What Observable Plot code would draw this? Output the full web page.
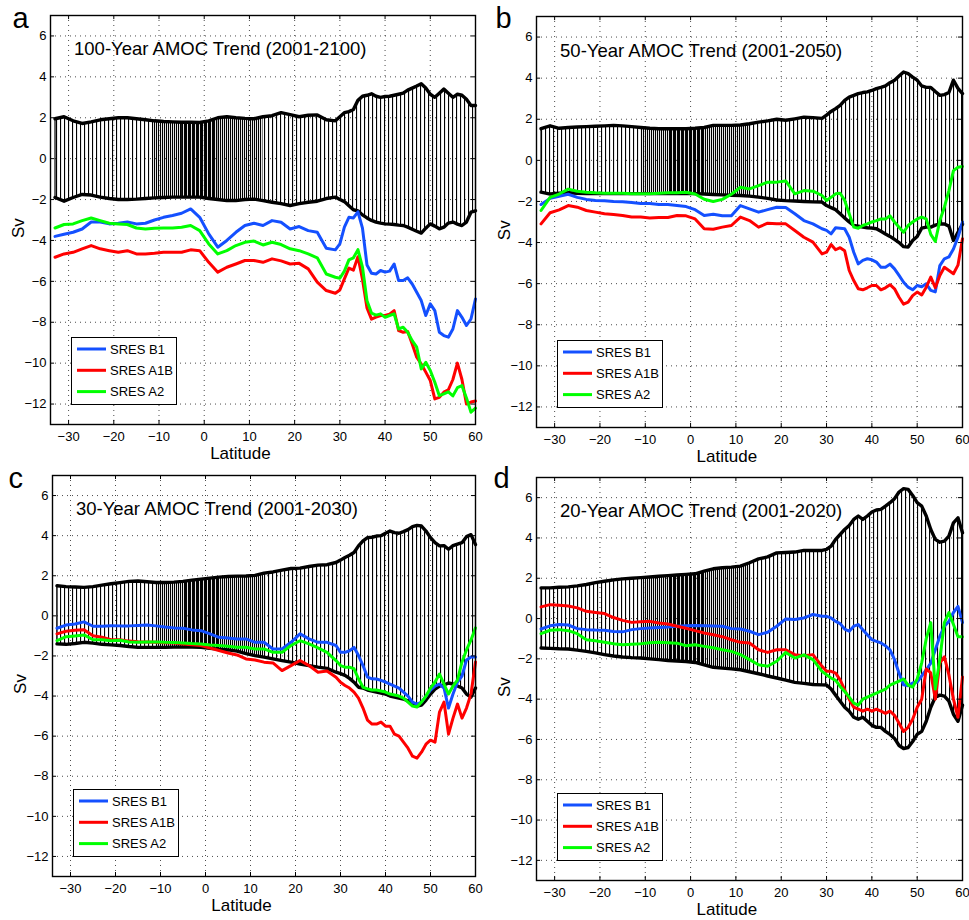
<!DOCTYPE html>
<html><head><meta charset="utf-8">
<script src="https://cdn.jsdelivr.net/npm/d3@7"></script>
<script src="https://cdn.jsdelivr.net/npm/@observablehq/plot@0.6"></script>
<style>
body{margin:0;background:#fff;}
#wrap{position:relative;width:969px;height:920px;background:#fff;overflow:hidden;}
.panel{position:absolute;}
</style></head><body><div id="wrap"></div>
<script>
// ---------------- data ----------------
const LAT = [-33,-31,-29,-27,-25,-23,-21,-19,-17,-15,-13,-11,-9,-7,-5,-3,-1,
 1,3,5,7,9,11,13,15,17,19,21,23,25,27,29,
 30,31,32,33,34,35,36,37,38,39,40,41,42,43,44,
 45,46,47,48,49,50,51,52,53,54,55,56,57,58,59,60];
const SERIES = ["SRES B1", "SRES A1B", "SRES A2"];
const SERIES_COLORS = ["#1450ff", "#ff0000", "#00ff00"];
const X_TICKS = [-30,-20,-10,0,10,20,30,40,50,60];
const Y_TICKS = [-12,-10,-8,-6,-4,-2,0,2,4,6];
const PANEL_LETTERS = ["a", "b", "c", "d"];
const PANEL_TITLES = ["100-Year AMOC Trend (2001-2100)", "50-Year AMOC Trend (2001-2050)",
  "30-Year AMOC Trend (2001-2030)", "20-Year AMOC Trend (2001-2020)"];
const X_LABEL = "Latitude";
const Y_LABEL = "Sv";

// panel a: 100-year
const aUp = [1.95,2.05,1.85,1.72,1.8,1.9,1.95,2.0,2.0,1.95,1.9,1.85,1.82,1.8,1.78,1.78,1.77,
 1.85,2.0,2.05,2.0,1.97,1.95,2.05,2.1,2.25,2.15,2.05,2.12,2.14,1.9,1.85,
 2.05,2.25,2.3,2.4,2.85,3.05,3.1,3.17,3.05,3.0,3.04,3.05,3.1,3.15,3.2,
 3.35,3.45,3.55,3.66,3.45,3.15,3.0,3.2,3.4,3.2,3.0,3.15,3.1,2.9,2.6,2.6];
const aLo = [-1.9,-2.08,-1.9,-1.75,-1.78,-1.88,-1.95,-2.0,-2.0,-1.98,-1.95,-1.92,-1.9,-1.88,-1.88,-1.88,-1.88,
 -1.95,-2.0,-2.05,-2.05,-2.0,-1.98,-2.05,-2.13,-2.2,-2.29,-2.2,-2.13,-2.08,-1.95,-1.88,
 -2.0,-2.1,-2.3,-2.5,-2.55,-2.75,-2.9,-3.02,-3.1,-3.15,-3.19,-3.2,-3.22,-3.25,-3.27,
 -3.35,-3.45,-3.55,-3.64,-3.4,-3.19,-3.3,-3.43,-3.35,-3.15,-3.1,-3.2,-3.27,-3.1,-2.62,-2.55];
const aB1 = [-3.8,-3.7,-3.6,-3.44,-3.1,-3.1,-3.19,-3.16,-3.1,-3.19,-3.16,-3.0,-2.87,-2.78,-2.67,-2.46,-2.87,
 -3.68,-4.33,-4.0,-3.6,-3.27,-3.16,-3.27,-3.03,-3.11,-3.44,-3.32,-3.52,-3.6,-4.38,-4.46,
 -4.17,-3.35,-2.87,-2.9,-2.6,-3.4,-5.2,-5.6,-5.64,-5.47,-5.55,-5.5,-5.15,-5.96,-5.96,
 -5.83,-6.13,-6.53,-6.94,-7.67,-7.1,-7.43,-8.49,-8.65,-8.73,-8.33,-7.43,-7.76,-8.16,-7.84,-6.86];
const aA1B = [-4.82,-4.66,-4.58,-4.41,-4.25,-4.41,-4.5,-4.58,-4.5,-4.66,-4.66,-4.63,-4.58,-4.58,-4.58,-4.46,-4.5,
 -5.07,-5.55,-5.31,-5.15,-4.98,-4.98,-5.07,-4.9,-5.0,-5.15,-5.12,-5.39,-6.04,-6.45,-6.58,
 -6.42,-5.88,-5.35,-5.45,-4.8,-5.9,-7.3,-7.85,-7.75,-7.67,-7.67,-7.6,-7.43,-8.41,-8.49,
 -8.45,-9.06,-9.71,-10.04,-10.44,-10.85,-11.75,-11.67,-11.42,-11.3,-10.8,-10.0,-10.8,-12.0,-11.9,-11.85];
const aA2 = [-3.39,-3.22,-3.19,-3.03,-2.9,-3.03,-3.16,-3.19,-3.22,-3.39,-3.44,-3.4,-3.39,-3.39,-3.35,-3.27,-3.52,
 -4.17,-4.66,-4.5,-4.25,-4.09,-4.03,-4.22,-4.09,-4.2,-4.41,-4.5,-4.66,-4.85,-5.64,-5.8,
 -5.85,-5.5,-4.95,-4.85,-4.45,-5.3,-6.95,-7.55,-7.65,-7.59,-7.76,-7.67,-7.59,-8.33,-8.24,
 -8.49,-8.9,-9.22,-10.28,-9.96,-10.36,-10.93,-11.59,-11.5,-11.4,-11.6,-11.2,-11.1,-11.7,-12.4,-12.2];

// panel b: 50-year
const bUp = [1.54,1.68,1.56,1.6,1.62,1.64,1.66,1.68,1.7,1.68,1.64,1.6,1.56,1.54,1.54,1.54,1.54,
 1.56,1.6,1.7,1.7,1.7,1.72,1.78,1.86,1.92,2.0,1.95,2.02,2.1,2.08,2.04,
 2.2,2.38,2.52,2.68,2.92,3.08,3.16,3.25,3.3,3.33,3.4,3.49,3.55,3.62,3.78,
 3.9,4.1,4.3,4.22,4.05,3.9,3.62,3.55,3.55,3.35,3.16,3.2,3.3,3.9,3.5,3.25];
const bLo = [-1.55,-1.64,-1.6,-1.58,-1.6,-1.62,-1.62,-1.62,-1.62,-1.62,-1.62,-1.62,-1.62,-1.62,-1.62,-1.62,-1.62,
 -1.62,-1.64,-1.66,-1.68,-1.7,-1.71,-1.74,-1.79,-1.85,-1.93,-1.96,-1.98,-2.0,-2.02,-2.03,
 -2.2,-2.3,-2.4,-2.6,-2.8,-3.0,-3.17,-3.2,-3.25,-3.28,-3.3,-3.33,-3.45,-3.58,-3.7,
 -3.85,-4.0,-4.2,-4.22,-3.9,-3.7,-3.3,-3.25,-3.25,-3.15,-3.09,-3.1,-3.2,-3.9,-3.5,-3.1];
const bB1 = [-2.15,-1.85,-1.75,-1.65,-1.8,-1.9,-1.95,-1.97,-2.0,-2.02,-2.05,-2.1,-2.1,-2.15,-2.15,-2.2,-2.25,
 -2.4,-2.68,-2.62,-2.7,-2.7,-2.2,-2.36,-2.52,-2.4,-2.28,-2.3,-2.6,-2.93,-3.09,-3.33,
 -3.41,-3.58,-3.28,-3.3,-3.33,-3.74,-4.47,-5.04,-4.87,-4.79,-4.84,-4.95,-5.2,-5.2,-5.05,
 -5.28,-5.6,-5.93,-6.17,-6.3,-6.09,-6.15,-6.01,-6.33,-6.4,-5.12,-4.79,-4.7,-4.31,-3.74,-3.0];
const bA1B = [-3.09,-2.55,-2.41,-2.2,-2.28,-2.44,-2.52,-2.6,-2.64,-2.68,-2.76,-2.76,-2.8,-2.78,-2.78,-2.68,-2.7,
 -2.85,-3.33,-3.35,-3.25,-3.17,-2.76,-2.93,-3.25,-3.06,-3.09,-3.09,-3.41,-3.74,-3.98,-4.55,
 -4.47,-4.1,-4.35,-4.25,-4.4,-5.36,-5.85,-6.25,-6.3,-6.2,-6.09,-6.09,-6.3,-6.2,-6.05,
 -6.25,-6.66,-7.0,-6.9,-6.58,-6.41,-6.55,-6.17,-5.68,-6.2,-5.6,-5.2,-5.36,-5.52,-5.1,-3.82];
const bA2 = [-2.44,-1.8,-1.64,-1.4,-1.5,-1.55,-1.58,-1.6,-1.6,-1.6,-1.62,-1.62,-1.62,-1.6,-1.58,-1.58,-1.55,
 -1.64,-1.89,-2.0,-1.9,-1.65,-1.31,-1.39,-1.23,-1.06,-1.06,-1.0,-1.63,-1.47,-1.5,-1.71,
 -1.95,-1.8,-1.63,-1.6,-1.95,-2.6,-3.25,-3.3,-3.17,-3.09,-3.0,-2.93,-2.85,-2.85,-2.7,
 -3.0,-3.25,-3.5,-3.17,-3.0,-2.85,-2.76,-2.85,-3.6,-3.95,-2.93,-2.28,-1.47,-0.5,-0.34,-0.3];

// panel c: 30-year
const cUp = [1.5,1.46,1.44,1.42,1.46,1.53,1.6,1.66,1.72,1.74,1.7,1.66,1.66,1.68,1.72,1.78,1.83,
 1.88,1.93,1.96,1.98,1.99,2.02,2.13,2.19,2.28,2.36,2.38,2.46,2.53,2.55,2.66,
 2.78,2.91,3.02,3.16,3.49,3.74,3.9,3.92,3.98,4.0,4.12,4.23,4.15,4.12,4.2,
 4.3,4.45,4.51,4.48,4.23,3.9,3.65,3.49,3.5,3.32,3.5,3.58,3.65,3.95,4.05,3.55];
const cLo = [-1.4,-1.42,-1.38,-1.32,-1.36,-1.42,-1.45,-1.48,-1.53,-1.57,-1.57,-1.57,-1.57,-1.56,-1.55,-1.56,-1.57,
 -1.62,-1.66,-1.7,-1.76,-1.88,-1.98,-2.06,-2.15,-2.23,-2.31,-2.4,-2.48,-2.56,-2.62,-2.81,
 -2.88,-2.97,-3.12,-3.31,-3.56,-3.6,-3.7,-3.75,-3.8,-3.85,-3.9,-4.0,-4.05,-4.1,-4.15,
 -4.25,-4.4,-4.5,-4.45,-4.2,-3.9,-3.65,-3.5,-3.45,-3.35,-3.4,-3.5,-3.6,-3.9,-4.05,-3.6];
const cB1 = [-0.62,-0.46,-0.41,-0.3,-0.52,-0.52,-0.49,-0.5,-0.5,-0.48,-0.46,-0.5,-0.56,-0.6,-0.62,-0.7,-0.74,
 -0.9,-1.07,-1.1,-1.15,-1.15,-1.32,-1.32,-1.65,-1.65,-1.32,-0.9,-1.15,-1.32,-1.32,-1.48,
 -1.82,-1.82,-1.74,-1.57,-1.98,-2.48,-3.06,-3.14,-3.15,-3.22,-3.3,-3.4,-3.5,-3.6,-3.8,
 -4.0,-4.3,-4.4,-4.3,-4.0,-3.7,-3.5,-3.4,-3.6,-4.6,-3.9,-3.3,-3.0,-2.2,-2.05,-2.05];
const cA1B = [-0.9,-0.77,-0.72,-0.69,-0.99,-1.07,-1.19,-1.19,-1.26,-1.29,-1.3,-1.32,-1.34,-1.36,-1.4,-1.44,-1.48,
 -1.6,-1.73,-1.85,-1.95,-2.15,-2.2,-2.31,-2.35,-2.73,-2.48,-2.23,-2.48,-2.81,-2.75,-3.06,
 -3.31,-3.47,-3.6,-3.8,-4.1,-4.6,-5.2,-5.4,-5.4,-5.3,-5.5,-5.5,-5.9,-6.0,-6.3,
 -6.6,-7.0,-7.1,-6.8,-6.4,-6.2,-6.3,-4.8,-4.3,-5.9,-5.1,-4.4,-5.1,-4.6,-3.9,-2.3];
const cA2 = [-1.24,-1.04,-1.0,-0.95,-1.19,-1.19,-1.24,-1.22,-1.3,-1.32,-1.3,-1.3,-1.32,-1.33,-1.35,-1.38,-1.4,
 -1.45,-1.48,-1.52,-1.57,-1.57,-1.65,-1.65,-1.82,-1.82,-1.48,-1.24,-1.4,-1.6,-1.82,-2.23,
 -2.48,-2.56,-2.56,-2.64,-3.14,-3.56,-3.64,-3.7,-3.7,-3.75,-3.8,-3.9,-3.95,-4.0,-4.1,
 -4.3,-4.5,-4.55,-4.3,-4.0,-3.6,-3.3,-2.9,-3.4,-3.9,-3.5,-3.2,-2.3,-1.7,-1.2,-0.6];

// panel d: 20-year
const dUp = [1.52,1.52,1.55,1.57,1.62,1.69,1.78,1.85,1.92,1.97,2.0,2.03,2.06,2.1,2.13,2.16,2.19,
 2.22,2.35,2.47,2.52,2.55,2.6,2.77,2.96,3.06,3.26,3.28,3.3,3.38,3.38,3.38,
 3.43,3.59,3.93,4.17,4.42,4.62,4.92,5.09,4.92,5.09,5.29,5.39,5.42,5.58,5.75,
 5.95,6.28,6.45,6.41,6.11,5.75,5.58,5.09,4.42,3.93,3.79,3.84,4.09,4.75,5.0,4.26];
const dLo = [-1.46,-1.48,-1.5,-1.51,-1.57,-1.63,-1.7,-1.79,-1.86,-1.91,-1.94,-1.96,-2.0,-2.04,-2.08,-2.11,-2.13,
 -2.18,-2.3,-2.42,-2.46,-2.5,-2.54,-2.64,-2.74,-2.85,-2.95,-3.06,-3.17,-3.22,-3.27,-3.29,
 -3.3,-3.5,-3.8,-4.1,-4.4,-4.6,-4.9,-5.0,-4.9,-5.1,-5.3,-5.4,-5.4,-5.6,-5.75,
 -5.95,-6.3,-6.45,-6.4,-6.1,-5.75,-5.6,-5.1,-4.4,-3.9,-3.8,-3.85,-4.1,-4.75,-5.1,-4.3];
const dB1 = [-0.52,-0.36,-0.3,-0.32,-0.5,-0.55,-0.57,-0.58,-0.64,-0.66,-0.55,-0.5,-0.47,-0.44,-0.42,-0.38,-0.36,
 -0.35,-0.36,-0.37,-0.38,-0.5,-0.52,-0.63,-0.8,-0.68,-0.38,-0.02,-0.05,0.03,0.2,0.11,
 0.11,0.03,-0.14,-0.25,-0.52,-0.63,-0.38,-0.3,-0.55,-0.8,-1.05,-1.13,-1.21,-1.35,-1.55,
 -2.04,-2.71,-3.29,-3.33,-3.2,-3.15,-2.84,-2.54,-2.21,-1.55,-0.88,-0.38,-0.14,0.3,0.6,-0.2];
const dA1B = [0.58,0.69,0.66,0.62,0.53,0.36,0.3,0.25,0.05,-0.09,-0.19,-0.16,-0.14,-0.22,-0.27,-0.38,-0.48,
 -0.6,-0.72,-0.8,-0.9,-1.05,-1.18,-1.21,-1.55,-1.68,-1.55,-1.55,-1.79,-1.85,-1.79,-2.37,
 -2.62,-2.62,-2.71,-3.04,-3.54,-4.0,-4.4,-4.5,-4.6,-4.5,-4.6,-4.5,-4.6,-4.7,-4.6,
 -4.8,-5.2,-5.6,-5.4,-5.0,-4.4,-4.0,-2.5,-2.7,-4.0,-2.2,-1.9,-2.8,-4.0,-4.9,-2.9];
const dA2 = [-0.75,-0.58,-0.55,-0.6,-0.75,-1.05,-1.1,-1.18,-1.25,-1.3,-1.27,-1.25,-1.2,-1.18,-1.2,-1.22,-1.35,
 -1.3,-1.38,-1.45,-1.55,-1.63,-1.79,-2.04,-2.29,-2.37,-2.12,-1.68,-1.96,-1.8,-2.04,-2.62,
 -2.79,-2.95,-3.07,-3.37,-3.62,-3.9,-4.2,-4.3,-4.0,-3.9,-3.8,-3.7,-3.6,-3.5,-3.3,
 -3.2,-3.1,-3.0,-3.3,-3.4,-3.0,-2.2,-1.0,-0.2,-3.5,-2.0,-0.2,0.3,-0.3,-0.9,-0.9];

// ---------------- layout ----------------
const LAYOUT = [
  {left: 0,   top: 0,   width: 485, height: 460, mt: 15, mb: 36, ml: 50, mr: 10, ldx: -38, ldy: 12},
  {left: 485, top: 0,   width: 484, height: 460, mt: 16, mb: 33, ml: 51, mr: 7,  ldx: -41, ldy: 11},
  {left: 0,   top: 455, width: 485, height: 460, mt: 20, mb: 39, ml: 52, mr: 10, ldx: -44, ldy: 12},
  {left: 485, top: 455, width: 484, height: 460, mt: 22, mb: 35, ml: 51, mr: 7,  ldx: -43, ldy: 10}
];
const PANELS = [
  {up: aUp, lo: aLo, lines: [aB1, aA1B, aA2]},
  {up: bUp, lo: bLo, lines: [bB1, bA1B, bA2]},
  {up: cUp, lo: cLo, lines: [cB1, cA1B, cA2]},
  {up: dUp, lo: dLo, lines: [dB1, dA1B, dA2]}
];
const FONT = "'Liberation Sans', Arial, Helvetica, sans-serif";
const wrap = document.getElementById("wrap");

PANELS.forEach((P, i) => {
  const L = LAYOUT[i];
  const band = LAT.map((lat, k) => ({lat, hi: P.up[k], lo: P.lo[k]}));
  const series = SERIES.map((name, j) => LAT.map((lat, k) => ({lat, v: P.lines[j][k], name})));
  const gridStyle = {stroke: "#222", strokeOpacity: 0.9, strokeWidth: 0.9, strokeDasharray: "1,4"};
  const svg = Plot.plot({
    width: L.width, height: L.height,
    marginTop: L.mt, marginBottom: L.mb, marginLeft: L.ml, marginRight: L.mr,
    style: {fontFamily: FONT, fontSize: "13px", background: "transparent", color: "black", overflow: "visible"},
    x: {domain: [-34, 60], ticks: X_TICKS, tickSize: 0, tickPadding: 7, label: null},
    y: {domain: [-13, 7], ticks: Y_TICKS, tickSize: 0, tickPadding: 4, label: null},
    marks: [
      Plot.gridX(X_TICKS, gridStyle),
      Plot.gridY(Y_TICKS, gridStyle),
      Plot.areaY(band, {x: "lat", y1: "lo", y2: "hi", fill: `url(#hb${i})`}),
      Plot.areaY(band.filter(d => d.lat >= -11 && d.lat <= 13), {x: "lat", y1: "lo", y2: "hi", fill: `url(#hm${i})`}),
      Plot.areaY(band.filter(d => d.lat >= -5 && d.lat <= 3), {x: "lat", y1: "lo", y2: "hi", fill: `url(#hd${i})`}),
      Plot.ruleX([band[0], band[band.length - 1]], {x: "lat", y1: "lo", y2: "hi", stroke: "black", strokeWidth: 1.2}),
      Plot.lineY(band, {x: "lat", y: "hi", stroke: "black", strokeWidth: 3.4}),
      Plot.lineY(band, {x: "lat", y: "lo", stroke: "black", strokeWidth: 3.4}),
      ...series.map((rows, j) => Plot.lineY(rows, {x: "lat", y: "v", stroke: SERIES_COLORS[j], strokeWidth: 3})),
      Plot.ruleX(X_TICKS, {x: d => d, y1: -13, y2: -12.8, stroke: "black"}),
      Plot.ruleX(X_TICKS, {x: d => d, y1: 7, y2: 6.8, stroke: "black"}),
      Plot.ruleY(Y_TICKS, {y: d => d, x1: -34, x2: -33.1, stroke: "black"}),
      Plot.ruleY(Y_TICKS, {y: d => d, x1: 60, x2: 59.1, stroke: "black"}),
      Plot.frame({stroke: "black", strokeWidth: 1.4}),
      Plot.text([PANEL_TITLES[i]], {x: () => -28.8, y: () => 5.05, text: d => d, textAnchor: "start", lineAnchor: "bottom", fontSize: 18.5, fill: "black"}),
      Plot.text([PANEL_LETTERS[i]], {frameAnchor: "top-left", dx: L.ldx, dy: L.ldy, text: d => d, textAnchor: "start", lineAnchor: "bottom", fontSize: 29, fill: "black"}),
      Plot.text([Y_LABEL], {x: () => -34, y: () => -3.4, dx: -32, rotate: -90, text: d => d, fontSize: 17, fill: "black"}),
      Plot.text([X_LABEL], {x: () => 8, y: () => -13, dy: 29, text: d => d, fontSize: 17, fill: "black"})
    ]
  });
  const s = d3.select(svg);
  const defs = s.insert("defs", ":first-child");
  const pat = (id, xs) => {
    const p = defs.append("pattern").attr("id", id).attr("patternUnits", "userSpaceOnUse")
      .attr("width", 4).attr("height", 8);
    xs.forEach(x => p.append("rect").attr("x", x).attr("y", 0).attr("width", 1.1).attr("height", 8).attr("fill", "black"));
  };
  pat("hb" + i, [0]); pat("hm" + i, [2]); pat("hd" + i, [1]);

  // legend
  const x0 = L.ml + 21, y0 = (L.height - L.mb) - 20 - 67;
  const g = s.append("g").attr("transform", `translate(${x0},${y0})`);
  g.append("rect").attr("x", 0.5).attr("y", 0.5).attr("width", 105).attr("height", 67)
    .attr("fill", "white").attr("stroke", "black").attr("stroke-width", 1);
  SERIES.forEach((name, j) => {
    const yy = 12 + j * 21.3;
    g.append("line").attr("x1", 6).attr("x2", 35).attr("y1", yy).attr("y2", yy)
      .attr("stroke", SERIES_COLORS[j]).attr("stroke-width", 3);
    g.append("text").attr("x", 39).attr("y", yy).attr("dy", "0.35em")
      .attr("text-anchor", "start")
      .attr("font-family", "'Liberation Sans Narrow', 'Arial Narrow', " + FONT)
      .attr("font-size", 13).attr("fill", "black").text(name);
  });

  const div = document.createElement("div");
  div.className = "panel";
  div.style.left = L.left + "px";
  div.style.top = L.top + "px";
  div.appendChild(svg);
  wrap.appendChild(div);
});
</script></body></html>
